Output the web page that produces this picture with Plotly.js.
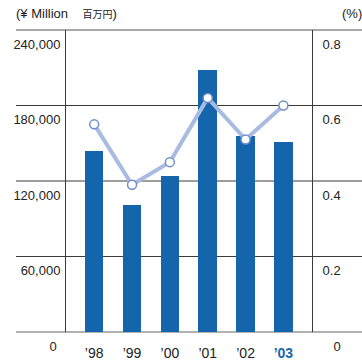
<!DOCTYPE html>
<html><head><meta charset="utf-8">
<script src="https://cdn.plot.ly/plotly-3.0.1.min.js"></script>
<style>html,body{margin:0;padding:0;background:#fff}#chart{width:362px;height:362px}</style>
</head><body><div id="chart"></div>
<script>
const years = ["’98","’99","’00","’01","’02","’03"];
const yearLabels = ["’98","’99","’00","’01","’02","<b><span style='color:#1a66ad'>’03</span></b>"];
const amounts = [144000, 101000, 124000, 208000, 156000, 151000];
const ratios = [0.55, 0.39, 0.45, 0.62, 0.51, 0.60];
const leftTickVals = [0, 60000, 120000, 180000, 240000];
const leftTickText = ["0\u00a0", "60,000", "120,000", "180,000", "240,000"];
const rightTickVals = [0, 0.2, 0.4, 0.6, 0.8];
const rightTickText = ["\u00a0\u00a0\u00a00", "0.2", "0.4", "0.6", "0.8"];
const leftTitle = "(¥ Million";
const leftTitleCJK = "百万円";
const rightTitle = "(%)";

const W = 362, H = 362, ML = 66, MR = 50, MT = 30, MB = 30;
const PW = W - ML - MR, PH = H - MT - MB;
const yMax = 240000, y2Max = 0.8;
const px = p => (p - ML) / PW;
const py = p => (H - MB - p) / PH;

const shapes = leftTickVals.map(v => ({
  type: 'line', xref: 'paper', yref: 'paper', layer: 'below',
  x0: px(16), x1: px(362), y0: v / yMax, y1: v / yMax,
  line: {color: v === yMax ? '#8c8c8c' : (v === 0 ? '#666' : '#3a3a3a'), width: v === yMax ? 1.5 : 1}
}));

const font = "'Liberation Sans', Arial, Helvetica, sans-serif";
const traces = [
  {type: 'bar', x: years, y: amounts, width: 0.49, marker: {color: '#1565ad'}, hoverinfo: 'none'},
  {type: 'scatter', mode: 'lines+markers', x: years, y: ratios, yaxis: 'y2', cliponaxis: false,
   line: {color: '#a9bbe0', width: 4},
   marker: {size: 9, color: '#ffffff', line: {color: '#6f8fcc', width: 1.5}}, hoverinfo: 'none'}
];

const layout = {
  width: W, height: H, margin: {l: ML, r: MR, t: MT, b: MB},
  paper_bgcolor: '#fff', plot_bgcolor: 'rgba(0,0,0,0)',
  showlegend: false, bargap: 0,
  font: {family: font, color: '#222', size: 13},
  xaxis: {type: 'category', range: [-0.745, 5.755], tickvals: years, ticktext: yearLabels,
          showgrid: false, zeroline: false, showline: false, ticks: '',
          tickfont: {size: 14, color: '#222'}, ticklabelstandoff: 11},
  yaxis: {range: [0, yMax], tickvals: leftTickVals, ticktext: leftTickText,
          showgrid: false, zeroline: false, showline: true, linecolor: '#3a3a3a', linewidth: 1,
          ticks: '', tickfont: {size: 13, color: '#222'}, ticklabelshift: 14, ticklabelstandoff: 2},
  yaxis2: {overlaying: 'y', side: 'right', range: [0, y2Max], tickvals: rightTickVals, ticktext: rightTickText,
          showgrid: false, zeroline: false, showline: true, linecolor: '#3a3a3a', linewidth: 1,
          ticks: '', tickfont: {size: 13, color: '#222'}, ticklabelshift: 14, ticklabelstandoff: 7},
  shapes: shapes,
  annotations: [
    {xref: 'paper', yref: 'paper', x: px(14), y: py(14), xanchor: 'left', yanchor: 'middle', showarrow: false,
     text: leftTitle + "\u00a0\u00a0\u00a0 <span style=\"font-family:'Noto Sans CJK JP';font-size:10px\">" + leftTitleCJK + "</span>)",
     font: {size: 13, color: '#222'}},
    {xref: 'paper', yref: 'paper', x: px(364), y: py(14), xanchor: 'right', yanchor: 'middle', showarrow: false,
     text: rightTitle, font: {size: 13, color: '#222'}}
  ]
};

Plotly.newPlot('chart', traces, layout, {displayModeBar: false, staticPlot: true});
</script>
</body></html>
